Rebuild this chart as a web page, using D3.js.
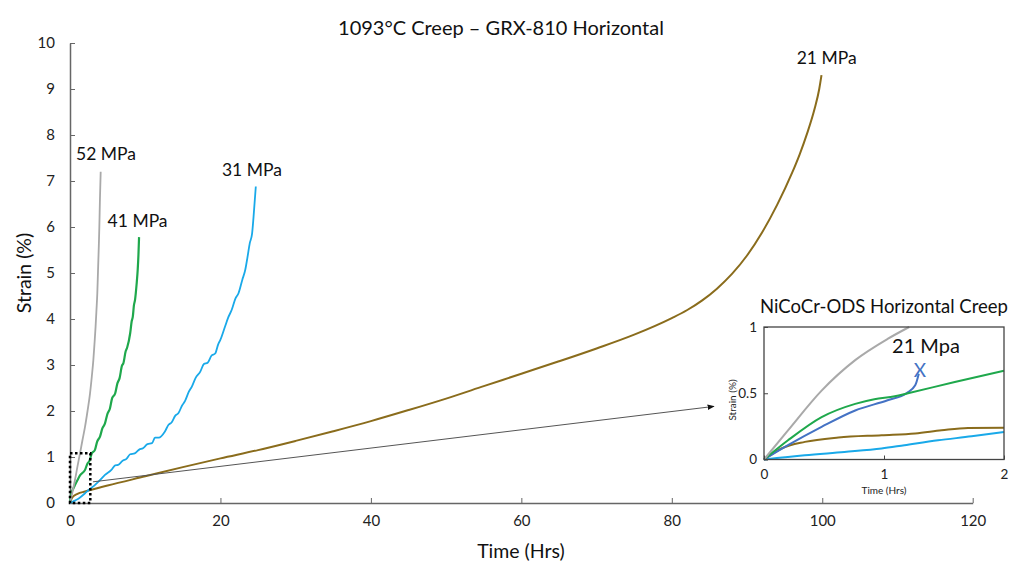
<!DOCTYPE html>
<html>
<head>
<meta charset="utf-8">
<script src="https://cdn.jsdelivr.net/npm/d3@7"></script>
<style>
  html, body { margin: 0; padding: 0; background: #fff; }
  svg { display: block; font-family: Lato, "Open Sans", sans-serif; }
</style>
</head>
<body>
<div id="chart"></div>
<script>
// main chart series [time (hrs), strain (%)]
const gray52 = [[0,0],[0.3,0.22],[0.66,0.5],[1,0.8],[1.33,1.08],[1.66,1.37],[2,1.66],[2.33,2.0],[2.66,2.38],[2.9,2.75],[3.1,3.1],[3.25,3.45],[3.4,3.83],[3.52,4.2],[3.63,4.56],[3.7,4.92],[3.77,5.28],[3.84,5.64],[3.9,6.0],[3.98,6.6],[4.08,7.2]];
const green41 = [[0,0],[0.15,0.2],[0.4,0.3],[0.66,0.39],[1,0.5],[1.33,0.6],[2,0.72],[2.3,0.85],[2.6,0.92],[2.9,1.08],[3.3,1.15],[3.6,1.33],[4,1.45],[4.3,1.62],[4.65,1.73],[5.0,1.95],[5.3,2.05],[5.6,2.28],[6.0,2.38],[6.3,2.6],[6.6,2.72],[6.9,2.98],[7.1,3.04],[7.4,3.3],[7.6,3.38],[8.0,3.69],[8.2,3.95],[8.35,4.05],[8.5,4.3],[8.64,4.41],[8.85,4.75],[9.0,5.07],[9.1,5.4],[9.18,5.78]];
const blue31 = [[0,0],[0.5,0.04],[1,0.08],[1.5,0.14],[2,0.21],[2.6,0.3],[3.3,0.39],[4,0.5],[4.65,0.61],[5.5,0.72],[6.0,0.82],[6.4,0.83],[7.0,0.92],[7.5,0.96],[8.0,1.06],[8.6,1.08],[9.2,1.16],[9.7,1.19],[10.3,1.28],[10.9,1.30],[11.3,1.42],[11.8,1.42],[12.6,1.55],[13.1,1.7],[13.5,1.75],[14.0,1.9],[14.4,1.95],[14.9,2.12],[15.3,2.22],[15.8,2.42],[16.2,2.53],[16.7,2.72],[17.3,2.85],[17.8,3.02],[18.3,3.05],[18.8,3.2],[19.3,3.25],[19.7,3.45],[20.0,3.55],[20.6,3.83],[21.0,4.02],[21.5,4.2],[22.0,4.45],[22.4,4.56],[22.9,4.85],[23.3,5.07],[23.6,5.35],[23.9,5.65],[24.2,5.85],[24.4,6.22],[24.7,6.88]];
const brown21 = [[0,0],[0.3,0.12],[1,0.2],[2,0.25],[5,0.38],[10,0.58],[15,0.78],[20,0.97],[25,1.15],[30,1.35],[35,1.56],[40,1.78],[45,2.02],[50,2.27],[55,2.54],[60,2.81],[65,3.08],[70,3.36],[75,3.66],[80,4.02],[82,4.19],[84,4.4],[86,4.66],[88,4.98],[90,5.38],[92,5.88],[94,6.48],[96,7.18],[97,7.58],[98,8.04],[99,8.58],[99.6,9.0],[99.9,9.3]];

const xTicks = [0, 20, 40, 60, 80, 100, 120];
const yTicks = [0, 1, 2, 3, 4, 5, 6, 7, 8, 9, 10];

const mainLabels = [
  { text: '52 MPa', at: [0.8, 7.45] },
  { text: '41 MPa', at: [5.0, 6.0] },
  { text: '31 MPa', at: [20.2, 7.1] },
  { text: '21 MPa', at: [96.6, 9.55] }
];

// inset (NiCoCr-ODS) series
const insetGray = [[0,0],[0.2,0.22],[0.48,0.52],[0.76,0.75],[1.03,0.91],[1.21,1.0]];
const insetGreen = [[0,0],[0.2,0.145],[0.48,0.32],[0.76,0.42],[0.92,0.455],[1.09,0.477],[1.2,0.5],[1.59,0.585],[2,0.67]];
const insetDarkBlue = [[0,0],[0.2,0.108],[0.48,0.246],[0.76,0.37],[1.03,0.447],[1.19,0.502],[1.26,0.56],[1.29,0.648]];
const insetBrown = [[0,0],[0.145,0.083],[0.34,0.133],[0.62,0.166],[0.98,0.183],[1.26,0.196],[1.48,0.22],[1.7,0.238],[2,0.24]];
const insetBlue = [[0,0],[0.34,0.032],[0.67,0.057],[0.98,0.083],[1.17,0.108],[1.45,0.145],[1.73,0.175],[2,0.208]];
const insetFail = [1.3, 0.673];
const insetXTicks = [0, 1, 2];
const insetYTicks = [0, 0.5, 1];

const colors = {
  gray: '#a9a9a9', green: '#1fa84c', blue: '#19a9e9', brown: '#8a6c1c', darkBlue: '#4472c4'
};

const width = 1024, height = 581;
const svg = d3.select('#chart').append('svg')
  .attr('width', width).attr('height', height);

svg.append('defs').html('<marker id="arrow" viewBox="0 0 10 10" refX="9" refY="5" markerWidth="7" markerHeight="7" orient="auto"><path d="M0,1 L10,5 L0,9 z" fill="#111"/></marker>');

const x = d3.scaleLinear().domain([0, 120]).range([70, 972.7]);
const y = d3.scaleLinear().domain([0, 10]).range([503, 43]);

// axes
const xAxis = svg.append('g').attr('transform', `translate(0,${y(0)})`)
  .call(d3.axisBottom(x).tickValues(xTicks).tickSizeInner(-5).tickSizeOuter(0).tickPadding(12));
const yAxis = svg.append('g').attr('transform', `translate(${x(0)},0)`)
  .call(d3.axisLeft(y).tickValues(yTicks).tickSizeInner(-5).tickSizeOuter(0).tickPadding(15));
[xAxis, yAxis].forEach(a => {
  a.select('.domain').attr('stroke', '#666').attr('stroke-width', 1.5);
  a.selectAll('.tick line').attr('stroke', '#666');
  a.selectAll('.tick text').attr('fill', '#222').attr('font-size', 15).attr('font-family', 'Lato, sans-serif');
});

svg.append('text').attr('x', 501).attr('y', 35).attr('text-anchor', 'middle')
  .attr('font-size', 20).attr('fill', '#111').text('1093°C Creep – GRX-810 Horizontal');
svg.append('text').attr('x', 521).attr('y', 558).attr('text-anchor', 'middle')
  .attr('font-size', 19.5).attr('fill', '#111').text('Time (Hrs)');
svg.append('text').attr('transform', 'translate(31,273) rotate(-90)').attr('text-anchor', 'middle')
  .attr('font-size', 19.5).attr('fill', '#111').text('Strain (%)');

const line = d3.line().x(d => x(d[0])).y(d => y(d[1])).curve(d3.curveMonotoneX);

const series = [
  { data: brown21, color: colors.brown, w: 2 },
  { data: blue31, color: colors.blue, w: 1.8 },
  { data: green41, color: colors.green, w: 2.2 },
  { data: gray52, color: colors.gray, w: 1.8 }
];
svg.append('g').selectAll('path').data(series).enter().append('path')
  .attr('d', d => line(d.data))
  .attr('fill', 'none')
  .attr('stroke', d => d.color)
  .attr('stroke-width', d => d.w);

svg.append('g').selectAll('text').data(mainLabels).enter().append('text')
  .attr('x', d => x(d.at[0])).attr('y', d => y(d.at[1]))
  .attr('font-size', 17.5).attr('fill', '#111')
  .text(d => d.text);

// dotted zoom box
svg.append('rect')
  .attr('x', x(0)).attr('y', y(1.08))
  .attr('width', x(2.7) - x(0)).attr('height', y(0) - y(1.08))
  .attr('fill', 'none').attr('stroke', '#000').attr('stroke-width', 2.5)
  .attr('stroke-dasharray', '2.5,2.5');

// arrow to inset
svg.append('line')
  .attr('x1', x(3.05)).attr('y1', y(0.46))
  .attr('x2', x(85.6)).attr('y2', y(2.1))
  .attr('stroke', '#555').attr('stroke-width', 1)
  .attr('marker-end', 'url(#arrow)');

// inset
const ix = d3.scaleLinear().domain([0, 2]).range([764, 1004]);
const iy = d3.scaleLinear().domain([0, 1]).range([459.5, 327]);
const inset = svg.append('g');
inset.append('rect').attr('x', 764).attr('y', 327).attr('width', 240).attr('height', 132.5)
  .attr('fill', '#fff');

const iline = d3.line().x(d => ix(d[0])).y(d => iy(d[1])).curve(d3.curveMonotoneX);
const insetSeries = [
  { data: insetBlue, color: colors.blue },
  { data: insetBrown, color: colors.brown },
  { data: insetDarkBlue, color: colors.darkBlue },
  { data: insetGreen, color: colors.green },
  { data: insetGray, color: colors.gray }
];
inset.append('g').selectAll('path').data(insetSeries).enter().append('path')
  .attr('d', d => iline(d.data))
  .attr('fill', 'none').attr('stroke', d => d.color).attr('stroke-width', 2);

inset.append('text').attr('x', ix(insetFail[0])).attr('y', iy(insetFail[1]))
  .attr('text-anchor', 'middle').attr('dy', '0.35em')
  .attr('font-size', 19).attr('fill', colors.darkBlue).text('X');

inset.append('rect').attr('x', 764).attr('y', 327).attr('width', 240).attr('height', 132.5)
  .attr('fill', 'none').attr('stroke', '#444').attr('stroke-width', 1.3);

const iyAxis = inset.append('g').attr('transform', 'translate(764,0)')
  .call(d3.axisLeft(iy).tickValues(insetYTicks).tickFormat(d3.format('')).tickSizeInner(-4).tickSizeOuter(0).tickPadding(7));
const ixAxis = inset.append('g').attr('transform', 'translate(0,459.5)')
  .call(d3.axisBottom(ix).tickValues(insetXTicks).tickFormat(d3.format('d')).tickSizeInner(-4).tickSizeOuter(0).tickPadding(10));
[ixAxis, iyAxis].forEach(a => {
  a.select('.domain').remove();
  a.selectAll('.tick line').attr('stroke', '#444');
  a.selectAll('.tick text').attr('fill', '#222').attr('font-size', 13.5).attr('font-family', 'Lato, sans-serif');
});

inset.append('text').attr('x', 884).attr('y', 313).attr('text-anchor', 'middle')
  .attr('font-size', 18.5).attr('fill', '#111').text('NiCoCr-ODS Horizontal Creep');
inset.append('text').attr('x', 926).attr('y', 353).attr('text-anchor', 'middle')
  .attr('font-size', 20).attr('fill', '#111').text('21 Mpa');
inset.append('text').attr('x', 884).attr('y', 494).attr('text-anchor', 'middle')
  .attr('font-size', 10).attr('fill', '#222').text('Time (Hrs)');
inset.append('text').attr('transform', 'translate(736,400) rotate(-90)').attr('text-anchor', 'middle')
  .attr('font-size', 10).attr('fill', '#222').text('Strain (%)');
</script>
</body>
</html>
